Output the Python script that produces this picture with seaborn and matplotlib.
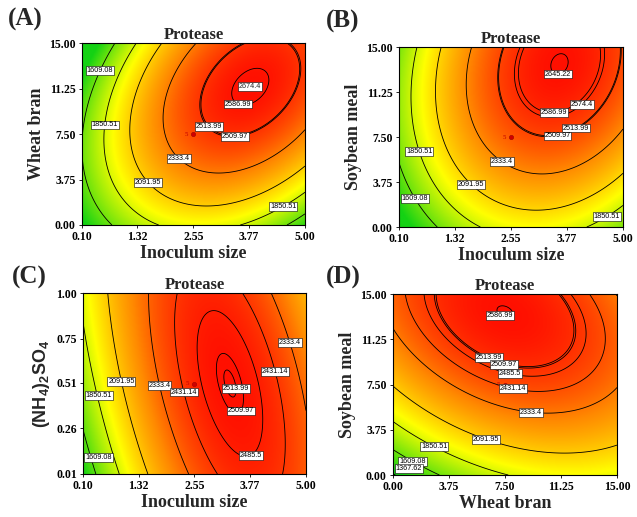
import numpy as np
import matplotlib
matplotlib.use('Agg')
import matplotlib.pyplot as plt
import seaborn as sns
from matplotlib.colors import LinearSegmentedColormap

sns.set_theme(style='ticks')
plt.rcParams['font.family'] = ['Liberation Serif', 'DejaVu Serif']
plt.rcParams['mathtext.default'] = 'regular'

# Second-order model in coded units (-1..1), estimated from each panel:
# protease = b0 + b1*X1 + b2*X2 + b11*X1^2 + b22*X2^2 + b12*X1*X2
a_coef = [2456.6, 354.0, 200.6, -500.0, -340.0, 300.0]   # inoculum size x wheat bran
b_coef = [2458.0, 309.4, 302.5, -470.0, -218.0, 120.0]   # inoculum size x soybean meal
c_coef = [2469.5, 286.2, 51.5, -450.0, -60.0, -162.0]    # inoculum size x (NH4)2SO4
d_coef = [2440.8, 120.0, 368.0, -220.0, -230.0, -150.0]  # wheat bran x soybean meal

inoc_range = (0.10, 5.00)
bran_range = (0.00, 15.00)
soy_range = (0.00, 15.00)
amm_range = (0.01, 1.00)

inoc_ticks = [0.10, 1.32, 2.55, 3.77, 5.00]
bran_ticks = [0.00, 3.75, 7.50, 11.25, 15.00]
amm_ticks = [0.01, 0.26, 0.51, 0.75, 1.00]

# contour labels as printed, with where they sit
a_labels = [('1609.08', 0.50, 12.7), ('1850.51', 0.46, 8.3), ('1850.51', 4.52, 1.57),
            ('2091.95', 1.30, 2.6), ('2333.4', 2.10, 5.0), ('2513.99', 2.98, 8.4),
            ('2509.97', 3.45, 7.6), ('2586.99', 3.57, 10.3), ('2674.4', None, None)]
b_labels = [('2645.22', 3.58, 13.0), ('2574.4', 4.15, 10.0), ('2586.99', 3.50, 9.2),
            ('2513.99', 3.97, 8.3), ('2509.97', 3.56, 7.75), ('2333.4', 2.38, 5.6),
            ('2091.95', 1.72, 3.75), ('1850.51', 0.56, 6.35), ('1850.51', 4.60, 1.15),
            ('1609.08', 0.49, 2.5)]
c_labels = [('2333.4', 4.65, 0.73), ('2431.14', 4.34, 0.57), ('2091.95', 0.85, 0.51),
            ('2333.4', 1.86, 0.50), ('2431.14', 2.19, 0.45), ('2513.99', 3.37, 0.475),
            ('2509.97', 3.48, 0.37), ('2485.5', 3.77, 0.12), ('1850.51', 0.43, 0.44),
            ('1609.08', 0.43, 0.11)]
d_labels = [('2586.99', 6.7, 12.5), ('2513.99', 6.4, 9.7), ('2509.97', 7.4, 9.1),
            ('2485.5', 7.8, 8.2), ('2431.14', 8.0, 6.9), ('2333.4', 9.2, 4.7),
            ('2091.95', 6.2, 2.8), ('1850.51', 2.9, 2.7), ('1609.08', 1.6, 1.8),
            ('1367.62', 1.1, 0.3)]

CMAP = LinearSegmentedColormap.from_list(
    'protease', [(0, '#14d214'), (0.45, '#ffff00'), (0.75, '#ff8a00'), (1, '#ff1000')])
COLOUR_FLOOR = 1400
BOX = dict(boxstyle='square,pad=0.12', fc='white', ec='black', lw=0.4)


def model(coef, U, V):
    b0, b1, b2, b11, b22, b12 = coef
    return b0 + b1 * U + b2 * V + b11 * U * U + b22 * V * V + b12 * U * V


def draw_panel(ax, coef, xr, yr, xticks, yticks, labels, xlabel, ylabel):
    cx, hx = (xr[0] + xr[1]) / 2, (xr[1] - xr[0]) / 2
    cy, hy = (yr[0] + yr[1]) / 2, (yr[1] - yr[0]) / 2
    X, Y = np.meshgrid(np.linspace(xr[0], xr[1], 300), np.linspace(yr[0], yr[1], 300))
    Z = model(coef, (X - cx) / hx, (Y - cy) / hy)

    ax.imshow(Z, extent=[xr[0], xr[1], yr[0], yr[1]], origin='lower', aspect='auto',
              cmap=CMAP, vmin=max(Z.min(), COLOUR_FLOOR), vmax=Z.max(),
              interpolation='bilinear')

    # one contour set per level, so each label lands on its own line
    sets = {}
    for s, _, _ in labels:
        lvl = float(s)
        if s not in sets and Z.min() < lvl < Z.max():
            sets[s] = ax.contour(X, Y, Z, levels=[lvl], colors='black', linewidths=0.6)

    # stationary point of the surface (for the label at the peak)
    b0, b1, b2, b11, b22, b12 = coef
    us, vs = np.linalg.solve([[2 * b11, b12], [b12, 2 * b22]], [-b1, -b2])
    peak = (cx + us * hx, cy + vs * hy)

    texts = []
    for s, lx, ly in labels:
        if s in sets and lx is not None:
            texts += sets[s].clabel(fmt={float(s): s}, fontsize=5.2, manual=[(lx, ly)],
                                    inline=False)
        else:
            texts.append(ax.text(peak[0], peak[1], s, fontsize=5.2, ha='center', va='center'))
    for t in set(texts):
        t.set_rotation(0)
        t.set_fontfamily('Liberation Sans')
        t.set_bbox(BOX)
        t.set_zorder(6)
        # keep the boxed label inside the frame
        tx, ty = t.get_position()
        tx = min(max(tx, xr[0] + 0.07 * 2 * hx), xr[1] - 0.07 * 2 * hx)
        ty = min(max(ty, yr[0] + 0.035 * 2 * hy), yr[1] - 0.035 * 2 * hy)
        t.set_position((tx, ty))

    # centre point of the design (5 replicates)
    sns.scatterplot(x=[cx], y=[cy], color='#d00000', s=10, edgecolor='#900000', linewidth=0.3,
                    ax=ax, zorder=5, legend=False)
    ax.annotate('5', (cx, cy), xytext=(-5, 0), textcoords='offset points', color='#c00000',
                fontsize=5, va='center', ha='center')

    ax.set_xlim(xr)
    ax.set_ylim(yr)
    ax.set_xticks(xticks)
    ax.set_yticks(yticks)
    ax.set_xticklabels([f'{t:.2f}' for t in xticks], fontsize=8.5, fontweight='bold')
    ax.set_yticklabels([f'{t:.2f}' for t in yticks], fontsize=8.5, fontweight='bold')
    ax.tick_params(length=2.5, width=0.6, pad=2, colors='black')
    for sp in ax.spines.values():
        sp.set_color('black')
        sp.set_linewidth(0.8)
    ax.set_title('Protease', fontsize=12, fontweight='bold', pad=3)
    ax.set_xlabel(xlabel, fontsize=13, fontweight='bold', labelpad=1)
    ax.set_ylabel(ylabel, fontsize=13, fontweight='bold', labelpad=3)


fig = plt.figure(figsize=(6.37, 5.17), dpi=100)
ax_a = fig.add_axes([0.1287, 0.5648, 0.350, 0.352])
ax_b = fig.add_axes([0.6264, 0.5609, 0.3516, 0.348])
ax_c = fig.add_axes([0.1303, 0.0832, 0.350, 0.350])
ax_d = fig.add_axes([0.6170, 0.0812, 0.3516, 0.350])

draw_panel(ax_a, a_coef, inoc_range, bran_range, inoc_ticks, bran_ticks, a_labels,
           'Inoculum size', 'Wheat bran')
draw_panel(ax_b, b_coef, inoc_range, soy_range, inoc_ticks, bran_ticks, b_labels,
           'Inoculum size', 'Soybean meal')
draw_panel(ax_c, c_coef, inoc_range, amm_range, inoc_ticks, amm_ticks, c_labels,
           'Inoculum size', '')
draw_panel(ax_d, d_coef, bran_range, soy_range, bran_ticks, bran_ticks, d_labels,
           'Wheat bran', 'Soybean meal')
ax_c.set_ylabel('(NH$_4$)$_2$SO$_4$', fontsize=13, fontweight='bold',
                fontfamily='Liberation Sans', labelpad=3)

for lbl, (px, py) in zip(['(A)', '(B)', '(C)', '(D)'],
                         [(8, 8), (326, 10), (12, 266), (326, 266)]):
    fig.text(px / 637, 1 - py / 517, lbl, fontsize=18, fontweight='bold', va='top', ha='left')

fig.savefig('out.png', dpi=100)
plt.close(fig)
